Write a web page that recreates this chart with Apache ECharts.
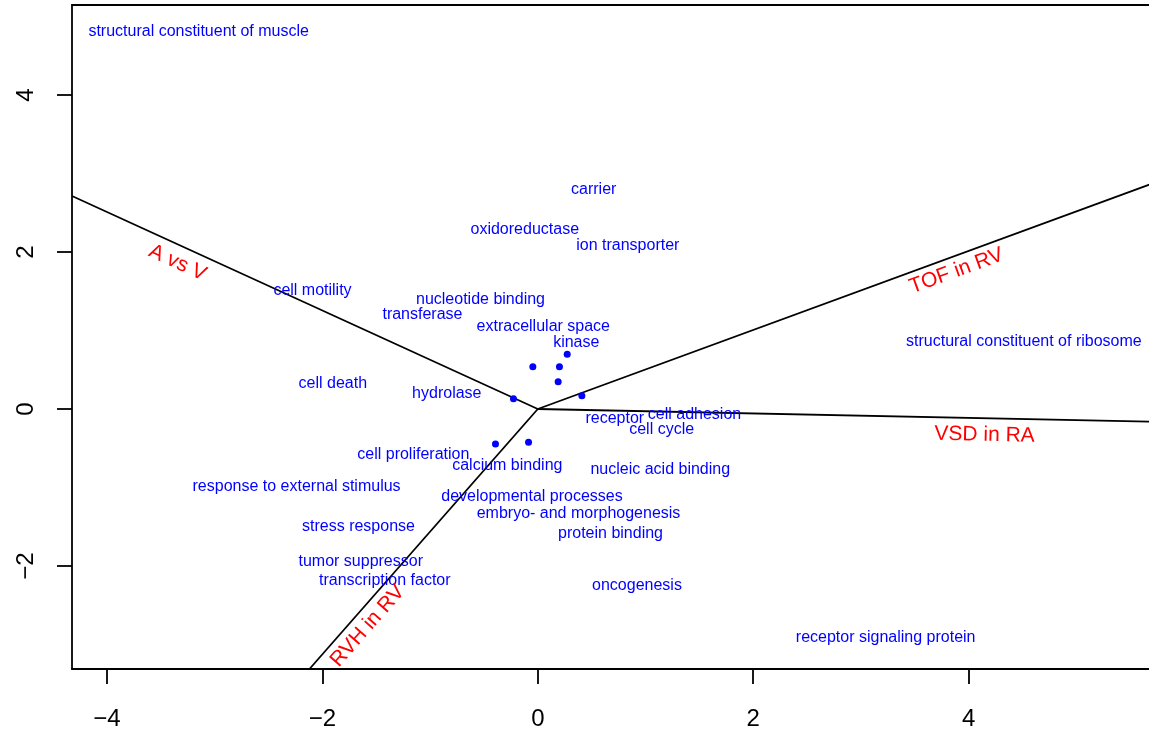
<!DOCTYPE html>
<html>
<head>
<meta charset="utf-8">
<script src="https://cdn.jsdelivr.net/npm/echarts@6/dist/echarts.min.js"></script>
<style>
html,body{margin:0;padding:0;background:#fff;}
#chart{width:1149px;height:731px;}
</style>
</head>
<body>
<div id="chart"></div>
<script>
// ---- data ----
const xTicks = [-4, -2, 0, 2, 4];
const yTicks = [-2, 0, 2, 4];

const termNames = [
  "structural constituent of muscle", "carrier", "oxidoreductase", "ion transporter",
  "cell motility", "nucleotide binding", "transferase", "extracellular space", "kinase",
  "structural constituent of ribosome", "cell death", "hydrolase", "receptor", "cell adhesion",
  "cell cycle", "cell proliferation", "calcium binding", "nucleic acid binding",
  "response to external stimulus", "developmental processes", "embryo- and morphogenesis",
  "stress response", "protein binding", "tumor suppressor", "transcription factor",
  "oncogenesis", "receptor signaling protein"
];
const termX = [-3.149, 0.519, -0.121, 0.836, -2.092, -0.532, -1.071, 0.051, 0.357,
  4.513, -1.903, -0.845, 0.715, 1.455, 1.150, -1.156, -0.283, 1.137,
  -2.240, -0.054, 0.378, -1.665, 0.675, -1.644, -1.421, 0.921, 3.230];
const termY = [4.806, 2.799, 2.280, 2.076, 1.503, 1.389, 1.197, 1.048, 0.845,
  0.857, 0.318, 0.195, -0.127, -0.076, -0.259, -0.586, -0.722, -0.777,
  -0.990, -1.121, -1.338, -1.499, -1.592, -1.945, -2.191, -2.255, -2.913];

const pointX = [-0.046, 0.201, 0.273, 0.189, -0.226, 0.409, -0.393, -0.086];
const pointY = [0.539, 0.539, 0.697, 0.348, 0.131, 0.169, -0.446, -0.424];

const arrowNames = ["A vs V", "TOF in RV", "VSD in RA", "RVH in RV"];
const arrowX = [-4.325, 6.0, 6.0, -2.120];
const arrowY = [2.713, 3.020, -0.171, -3.312];
const arrowLabelX = [-3.345, 3.888, 4.148, -1.581];
const arrowLabelY = [1.860, 1.758, -0.331, -2.765];

// ---- chart ----
const X_MIN = -4.325, X_MAX = 5.675, Y_MIN = -3.312, Y_MAX = 5.146;
const FONT = "'Liberation Sans', Arial, Helvetica, sans-serif";
const fmt = v => String(v).replace('-', '\u2212');
const AXLINE = {show: true, onZero: false, lineStyle: {color: '#000', width: 1.8}};

const chart = echarts.init(document.getElementById('chart'), null, {renderer: 'canvas'});

function buildOption(rotations) {
  const series = [];
  arrowNames.forEach((n, i) => {
    series.push({
      type: 'line', name: n, data: [[0, 0], [arrowX[i], arrowY[i]]],
      symbol: 'none', clip: true, silent: true, animation: false,
      lineStyle: {color: '#000', width: 1.8}, z: 2
    });
  });
  series.push({
    type: 'scatter', name: 'points',
    data: pointX.map((x, i) => [x, pointY[i]]),
    symbol: 'circle', symbolSize: 7, itemStyle: {color: '#0000ff', opacity: 1},
    animation: false, silent: true, z: 3
  });
  series.push({
    type: 'scatter', name: 'terms',
    data: termNames.map((n, i) => ({name: n, value: [termX[i], termY[i]]})),
    symbolSize: 1, itemStyle: {color: 'rgba(0,0,0,0)', opacity: 1},
    label: {show: true, position: 'inside', formatter: p => p.name, offset: [0, 1],
      color: '#0000ff', fontSize: 16, fontFamily: FONT},
    labelLayout: {hideOverlap: false},
    animation: false, silent: true, z: 4
  });
  series.push({
    type: 'scatter', name: 'arrowLabels',
    data: arrowNames.map((n, i) => ({name: n, value: [arrowLabelX[i], arrowLabelY[i]],
      label: {rotate: rotations[i]}})),
    symbolSize: 1, itemStyle: {color: 'rgba(0,0,0,0)', opacity: 1},
    label: {show: true, position: 'inside', formatter: p => p.name,
      color: '#ff0000', fontSize: 21, fontFamily: FONT},
    animation: false, silent: true, z: 4
  });
  return {
    backgroundColor: '#fff',
    animation: false,
    grid: {left: 72, top: 5, right: 0, bottom: 62, show: false, containLabel: false},
    xAxis: [{
      type: 'value', min: X_MIN, max: X_MAX, position: 'bottom',
      axisLine: AXLINE, splitLine: {show: false},
      axisTick: {show: true, length: 15, customValues: xTicks, lineStyle: {color: '#000', width: 1.8}},
      axisLabel: {show: true, customValues: xTicks, margin: 38, fontSize: 24,
        color: '#000', fontFamily: FONT, formatter: fmt}
    }, {
      type: 'value', min: X_MIN, max: X_MAX, position: 'top',
      axisLine: AXLINE, splitLine: {show: false},
      axisTick: {show: false}, axisLabel: {show: false}
    }],
    yAxis: {
      type: 'value', min: Y_MIN, max: Y_MAX, position: 'left',
      axisLine: AXLINE, splitLine: {show: false},
      axisTick: {show: true, length: 15, customValues: yTicks, lineStyle: {color: '#000', width: 1.8}},
      axisLabel: {show: true, customValues: yTicks, margin: 34, fontSize: 24, rotate: 90,
        color: '#000', fontFamily: FONT, formatter: fmt}
    },
    series: series
  };
}

chart.setOption(buildOption(arrowNames.map(() => 0)));
const o = chart.convertToPixel({xAxisIndex: 0, yAxisIndex: 0}, [0, 0]);
const rots = arrowNames.map((n, i) => {
  const p = chart.convertToPixel({xAxisIndex: 0, yAxisIndex: 0}, [arrowX[i], arrowY[i]]);
  let a = Math.atan2(-(p[1] - o[1]), p[0] - o[0]) * 180 / Math.PI;
  if (a > 90) a -= 180;
  if (a < -90) a += 180;
  return a;
});
chart.setOption(buildOption(rots), true);
</script>
</body>
</html>
